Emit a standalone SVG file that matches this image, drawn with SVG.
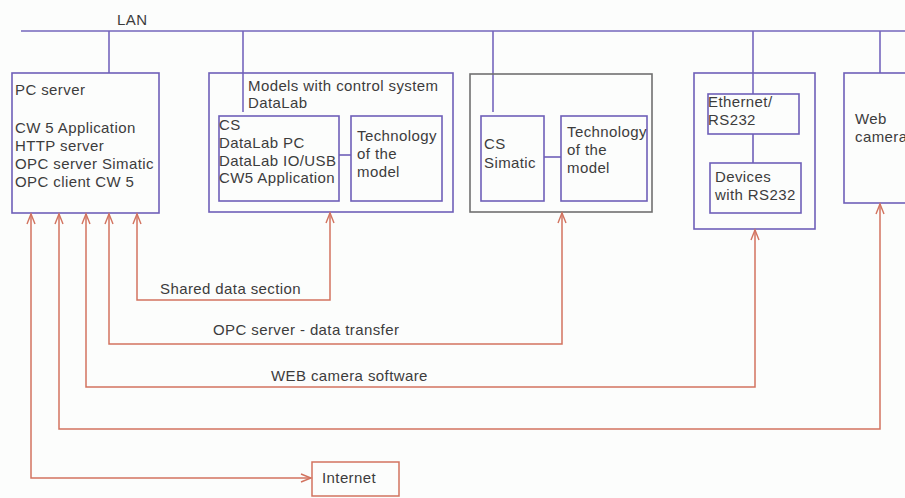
<svg xmlns="http://www.w3.org/2000/svg" width="905" height="498" viewBox="0 0 905 498">
<style>
  text { font-family: "Liberation Sans", Arial, sans-serif; font-size: 15px; fill: #3c3c3c; letter-spacing: 0.4px; }
  .box { fill: none; stroke: #6e5fb8; stroke-width: 1.6; }
  .gbox { fill: none; stroke: #707070; stroke-width: 1.6; }
  .lan { fill: none; stroke: #7566bd; stroke-width: 1.6; }
  .link { fill: none; stroke: #d2735f; stroke-width: 1.5; marker-start: url(#arr); marker-end: url(#arr); }
</style>
<defs>
  <marker id="arr" markerUnits="userSpaceOnUse" markerWidth="14" markerHeight="12" viewBox="-11 -6 12 12" refX="0" refY="0" orient="auto-start-reverse">
    <path d="M-10,-4 L0,0 L-10,4" fill="none" stroke="#d2735f" stroke-width="1.4"/>
  </marker>
</defs>
<rect x="0" y="0" width="905" height="498" fill="#fcfdfc"/>

<g id="lan">
  <line class="lan" x1="21" y1="31" x2="905" y2="31"/>
  <text x="117" y="25">LAN</text>
  <line class="lan" x1="109" y1="31" x2="109" y2="73"/>
  <line class="lan" x1="243" y1="31" x2="243" y2="112"/>
  <line class="lan" x1="493" y1="31" x2="493" y2="112"/>
  <line class="lan" x1="753" y1="31" x2="753" y2="94"/>
  <line class="lan" x1="880" y1="31" x2="880" y2="73"/>
</g>

<g id="pc-server">
  <rect class="box" x="12" y="73" width="147" height="140"/>
  <text x="15" y="95">PC server</text>
  <text x="15" y="133">CW 5 Application</text>
  <text x="15" y="151">HTTP server</text>
  <text x="15" y="169">OPC server Simatic</text>
  <text x="15" y="187">OPC client CW 5</text>
</g>

<g id="models-datalab">
  <rect class="box" x="209" y="73" width="244" height="139"/>
  <text x="248" y="91">Models with control system</text>
  <text x="248" y="108">DataLab</text>
  <g id="cs-datalab">
    <rect class="box" x="219" y="116" width="120" height="85"/>
    <text x="219" y="130">CS</text>
    <text x="219" y="148">DataLab PC</text>
    <text x="219" y="166">DataLab IO/USB</text>
    <text x="219" y="183">CW5 Application</text>
  </g>
  <line class="box" x1="339" y1="155" x2="351" y2="155"/>
  <g id="tech-datalab">
    <rect class="box" x="351" y="116" width="91" height="85"/>
    <text x="357" y="141">Technology</text>
    <text x="357" y="159">of the</text>
    <text x="357" y="177">model</text>
  </g>
</g>

<g id="models-simatic">
  <rect class="gbox" x="470" y="74" width="182" height="138"/>
  <g id="cs-simatic">
    <rect class="box" x="481" y="116" width="63" height="85"/>
    <text x="484" y="149">CS</text>
    <text x="484" y="168">Simatic</text>
  </g>
  <line class="box" x1="544" y1="157" x2="561" y2="157"/>
  <g id="tech-simatic">
    <rect class="box" x="561" y="116" width="86" height="85"/>
    <text x="567" y="137">Technology</text>
    <text x="567" y="155">of the</text>
    <text x="567" y="173">model</text>
  </g>
</g>

<g id="rs232">
  <rect class="box" x="694" y="73" width="121" height="156"/>
  <g id="ethernet-rs232">
    <rect class="box" x="708" y="94" width="91" height="40"/>
    <text x="708" y="107">Ethernet/</text>
    <text x="708" y="125">RS232</text>
  </g>
  <line class="box" x1="753" y1="134" x2="753" y2="163"/>
  <g id="devices">
    <rect class="box" x="710" y="163" width="91" height="50"/>
    <text x="715" y="182">Devices</text>
    <text x="715" y="200">with RS232</text>
  </g>
</g>

<g id="web-camera">
  <rect class="box" x="844" y="73" width="80" height="130"/>
  <text x="855" y="124">Web</text>
  <text x="855" y="142">camera</text>
</g>

<g id="internet">
  <rect fill="none" stroke="#d2735f" stroke-width="1.5" x="312" y="462" width="87" height="34"/>
  <text x="322" y="483">Internet</text>
</g>

<g id="connectors">
  <path class="link" d="M137,214 V300 H330 V213"/>
  <path class="link" d="M109,214 V344 H562 V213"/>
  <path class="link" d="M86,214 V387 H755 V230"/>
  <path class="link" d="M59,214 V429 H880 V204"/>
  <path class="link" d="M31,214 V478 H311"/>
  <text x="160" y="294">Shared data section</text>
  <text x="213" y="335">OPC server - data transfer</text>
  <text x="271" y="381">WEB camera software</text>
</g>
</svg>
